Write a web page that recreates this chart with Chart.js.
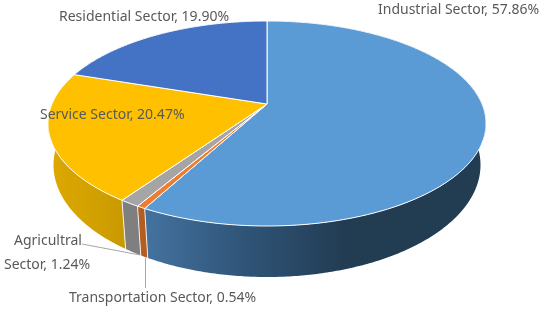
<!DOCTYPE html>
<html>
<head>
<meta charset="utf-8">
<script src="https://cdn.jsdelivr.net/npm/chart.js@4"></script>
<style>
  html, body { margin: 0; padding: 0; background: #fff; }
  canvas { display: block; }
</style>
</head>
<body>
<canvas id="pieChart" width="550" height="311"></canvas>
<script>
// Chart data ---------------------------------------------------
const categories = ['Industrial Sector', 'Transportation Sector', 'Agricultral Sector', 'Service Sector', 'Residential Sector'];
const shares = [57.86, 0.54, 1.24, 20.47, 19.90];

const topColors = ['#5B9BD5', '#ED7D31', '#A5A5A5', '#FFC000', '#4472C4'];

// the disc as it sits on the page: top face, bottom face, how far the
// perspective pushes the centre of the pie up from the middle of the ellipse
const topFace = { x: 267, y: 123.5, rx: 219, ry: 102.5 };
const bottomFace = { x: 267, y: 165, rx: 213.5, ry: 112 };
const tilt = -0.19;

function project(face, angle) {
    const u = Math.cos(angle), v = Math.sin(angle);
    const d = 1 + tilt * v;
    return [
        face.x + face.rx * u * Math.sqrt(1 - tilt * tilt) / d,
        face.y + face.ry * (v + tilt) / d
    ];
}

function arcPoints(face, start, end) {
    const pts = [];
    const n = Math.max(2, Math.ceil((end - start) / 0.01));
    for (let i = 0; i <= n; i++) pts.push(project(face, start + (end - start) * i / n));
    return pts;
}

function tracePath(ctx, pts) {
    ctx.beginPath();
    pts.forEach((p, i) => i ? ctx.lineTo(p[0], p[1]) : ctx.moveTo(p[0], p[1]));
    ctx.closePath();
}

function sideFill(ctx, i) {
    const g = (stops) => {
        const grad = ctx.createLinearGradient(stops[0], 0, stops[1], 0);
        stops[2].forEach((c, k) => grad.addColorStop(k / (stops[2].length - 1), c));
        return grad;
    };
    if (i === 0) return g([146, 345, ['#44729F', '#2F5478', '#223C52']]);
    if (i === 1) return '#B35E20';
    if (i === 2) return '#7F7F7F';
    if (i === 3) return g([50, 125, ['#DCA800', '#D4A200', '#C89900']]);
    return '#2F5597';
}

// Draws the slices from the angles the pie controller worked out
const pie3d = {
    id: 'pie3d',
    beforeDatasetDraw(chart) {
        const ctx = chart.ctx;
        const arcs = chart.getDatasetMeta(0).data;
        ctx.save();
        ctx.lineJoin = 'round';

        // walls first, the top face covers the back of them
        arcs.forEach((arc, i) => {
            const a = arc.startAngle, b = arc.endAngle;
            const pts = arcPoints(topFace, a, b).concat(arcPoints(bottomFace, a, b).reverse());
            tracePath(ctx, pts);
            ctx.fillStyle = sideFill(ctx, i);
            ctx.fill();
        });
        ctx.strokeStyle = 'rgba(255,255,255,0.85)';
        ctx.lineWidth = 1;
        arcs.forEach((arc) => {
            const s = arc.endAngle;
            if (Math.sin(s) < 0.3) return;
            const p = project(topFace, s), q = project(bottomFace, s);
            ctx.beginPath();
            ctx.moveTo(p[0], p[1]);
            ctx.lineTo(q[0], q[1]);
            ctx.stroke();
        });

        const centre = [topFace.x, topFace.y + topFace.ry * tilt];
        arcs.forEach((arc, i) => {
            tracePath(ctx, [centre].concat(arcPoints(topFace, arc.startAngle, arc.endAngle)));
            ctx.fillStyle = topColors[i];
            ctx.fill();
            ctx.strokeStyle = '#fff';
            ctx.stroke();
        });
        ctx.restore();
        return false;
    },
    afterDatasetsDraw(chart) {
        const ctx = chart.ctx;
        ctx.save();

        // leader lines
        ctx.strokeStyle = '#A6A6A6';
        ctx.lineWidth = 1;
        ctx.beginPath();
        ctx.moveTo(82, 244);
        ctx.lineTo(140, 255);
        ctx.moveTo(145.5, 258);
        ctx.lineTo(145.5, 288);
        ctx.stroke();

        ctx.fillStyle = '#595959';
        ctx.font = '14px "Noto Sans"';
        ctx.textBaseline = 'middle';
        const text = categories.map((c, i) => c + ', ' + shares[i].toFixed(2) + '%');
        ctx.fillText(text[0], 378, 10);
        ctx.fillText(text[4], 59, 17);
        ctx.fillText(text[3], 40, 115);
        ctx.fillText(text[1], 69, 298);
        const agri = text[2].split(' ');
        ctx.fillText(agri[0], 14, 241);
        ctx.fillText(agri[1] + ' ' + agri[2], 4, 265);
        ctx.restore();
    }
};

new Chart(document.getElementById('pieChart').getContext('2d'), {
    type: 'pie',
    data: {
        labels: categories,
        datasets: [{ data: shares, backgroundColor: topColors, borderWidth: 0 }]
    },
    options: {
        responsive: false,
        animation: false,
        plugins: { legend: { display: false }, tooltip: { enabled: false } }
    },
    plugins: [pie3d]
});
</script>
</body>
</html>
